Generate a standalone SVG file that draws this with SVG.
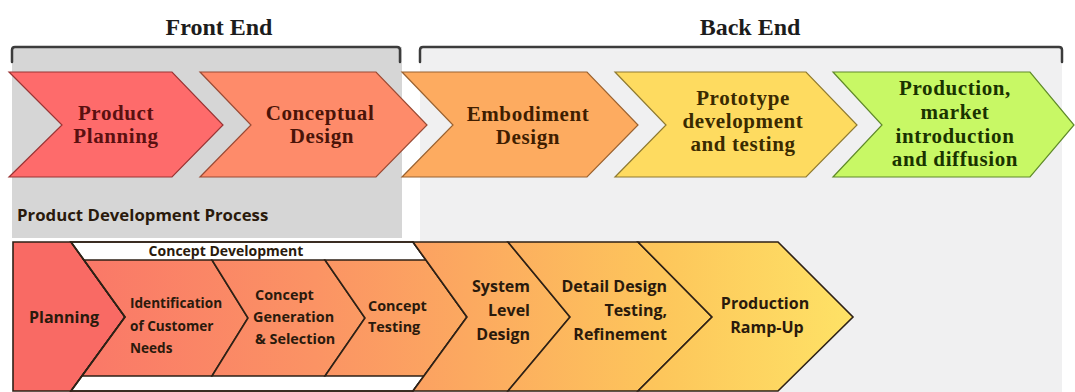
<svg xmlns="http://www.w3.org/2000/svg" width="1075" height="392" viewBox="0 0 1075 392">
  <defs>
    <linearGradient id="gradStages" gradientUnits="userSpaceOnUse" x1="84" y1="0" x2="853" y2="0">
      <stop offset="0" stop-color="#fa7868"/>
      <stop offset="0.3" stop-color="#fb9364"/>
      <stop offset="0.5" stop-color="#fca960"/>
      <stop offset="0.75" stop-color="#fdc65b"/>
      <stop offset="1" stop-color="#fee266"/>
    </linearGradient>
    <style>
      .hdr { font-family: "Liberation Serif", "Times New Roman", serif; font-weight: bold; font-size: 24px; fill: #1c1c1c; text-anchor: middle; }
      .bracket { fill: none; stroke: #3c3c3c; stroke-width: 2.5; stroke-linecap: round; stroke-linejoin: round; }
      .phase { stroke-width: 1.2; stroke-linejoin: miter; }
      .ptxt { font-family: "Liberation Serif", "Times New Roman", serif; font-weight: bold; font-size: 21px; letter-spacing: 0.6px; text-anchor: middle; }
      .stage { fill: url(#gradStages); stroke: #2e2116; stroke-width: 1.6; stroke-linejoin: miter; }
      .stxt { font-family: "Open Sans", "Liberation Sans", sans-serif; font-weight: bold; fill: #2a1a0c; }
    </style>
  </defs>

  <!-- background panels -->
  <rect x="0" y="0" width="1075" height="392" fill="#ffffff"/>
  <rect x="12" y="47" width="390" height="191" fill="#d6d6d6"/>
  <rect x="420" y="47" width="642" height="345" fill="#f0f0f1"/>

  <!-- phase headings and brackets -->
  <g id="front-end">
    <text class="hdr" x="219" y="35">Front End</text>
    <path class="bracket" d="M12,62 V50 Q12,47 15,47 H397 Q400,47 400,50 V62"/>
  </g>
  <g id="back-end">
    <text class="hdr" x="750" y="35">Back End</text>
    <path class="bracket" d="M420,62 V50 Q420,47 423,47 H1059 Q1062,47 1062,50 V62"/>
  </g>

  <!-- upper process chevrons -->
  <g id="product-planning">
    <polygon class="phase" points="9,72 172,72 223,125 172,177 9,177 62,125" fill="#fe6b6b" stroke="#9a3434"/>
    <text class="ptxt" fill="#5a1010"><tspan x="116" y="120">Product</tspan><tspan x="116" y="143">Planning</tspan></text>
  </g>
  <g id="conceptual-design">
    <polygon class="phase" points="200,72 376,72 427,125 376,177 200,177 251,125" fill="#fe8b6a" stroke="#9a4a34"/>
    <text class="ptxt" fill="#4a1408"><tspan x="320" y="120">Conceptual</tspan><tspan x="322" y="143">Design</tspan></text>
  </g>
  <g id="embodiment-design">
    <polygon class="phase" points="402,72 587,72 638,125 587,177 402,177 453,125" fill="#fdab60" stroke="#9a6230"/>
    <text class="ptxt" fill="#3f1e00"><tspan x="528" y="121">Embodiment</tspan><tspan x="528" y="144">Design</tspan></text>
  </g>
  <g id="prototype-testing">
    <polygon class="phase" points="615,72 806,72 857,125 806,177 615,177 666,125" fill="#fedb60" stroke="#8f7a30"/>
    <text class="ptxt" fill="#3a2a00"><tspan x="743" y="105">Prototype</tspan><tspan x="743" y="128">development</tspan><tspan x="743" y="151">and testing</tspan></text>
  </g>
  <g id="production-market">
    <polygon class="phase" points="833,72 1030,72 1074,125 1030,177 833,177 882,125" fill="#c8f865" stroke="#5f8a2a"/>
    <text class="ptxt" fill="#1a3300"><tspan x="955" y="95">Production,</tspan><tspan x="955" y="119">market</tspan><tspan x="955" y="143">introduction</tspan><tspan x="955" y="166">and diffusion</tspan></text>
  </g>

  <text class="stxt" x="17" y="221" font-size="16.8">Product Development Process</text>

  <!-- lower stage chevrons -->
  <g id="planning">
    <polygon class="stage" points="13,242 71,242 125,317 71,391 13,391" style="fill:#f96a64"/>
    <text class="stxt" x="64" y="323" font-size="16" text-anchor="middle">Planning</text>
  </g>

  <g id="concept-development">
    <polygon points="71,242 413,242 467,317 413,391 71,391 125,317" fill="#ffffff" stroke="#2e2116" stroke-width="1.6"/>
    <text class="stxt" x="226" y="256" font-size="14" text-anchor="middle">Concept Development</text>
  </g>
  <g id="customer-needs">
    <polygon class="stage" points="84,260 212,260 248,318 212,376 82,376 125,317"/>
    <text class="stxt" font-size="13.6"><tspan x="130" y="308">Identification</tspan><tspan x="130" y="331">of Customer</tspan><tspan x="130" y="353">Needs</tspan></text>
  </g>
  <g id="concept-generation">
    <polygon class="stage" points="212,260 325,260 365,318 325,376 212,376 248,318"/>
    <text class="stxt" font-size="14.4"><tspan x="255" y="300">Concept</tspan><tspan x="253" y="322">Generation</tspan><tspan x="255" y="344">&amp; Selection</tspan></text>
  </g>
  <g id="concept-testing">
    <polygon class="stage" points="325,260 426,260 467,317 424,376 325,376 365,318"/>
    <text class="stxt" font-size="14.4"><tspan x="368" y="311">Concept</tspan><tspan x="368" y="332">Testing</tspan></text>
  </g>
  <polygon points="71,242 413,242 467,317 413,391 71,391 125,317" fill="none" stroke="#2e2116" stroke-width="1.6"/>

  <g id="system-level-design">
    <polygon class="stage" points="413,242 508,242 570,317 508,391 413,391 467,317"/>
    <text class="stxt" font-size="16" text-anchor="end"><tspan x="530" y="292">System</tspan><tspan x="530" y="316">Level</tspan><tspan x="530" y="340">Design</tspan></text>
  </g>
  <g id="detail-design">
    <polygon class="stage" points="508,242 638,242 712,317 638,391 508,391 570,317"/>
    <text class="stxt" font-size="16" text-anchor="end"><tspan x="667" y="292">Detail Design</tspan><tspan x="667" y="316">Testing,</tspan><tspan x="667" y="340">Refinement</tspan></text>
  </g>
  <g id="production-ramp-up">
    <polygon class="stage" points="638,242 778,242 853,317 778,391 638,391 712,317"/>
    <text class="stxt" font-size="16" text-anchor="middle"><tspan x="765" y="309">Production</tspan><tspan x="767" y="333">Ramp-Up</tspan></text>
  </g>
</svg>
